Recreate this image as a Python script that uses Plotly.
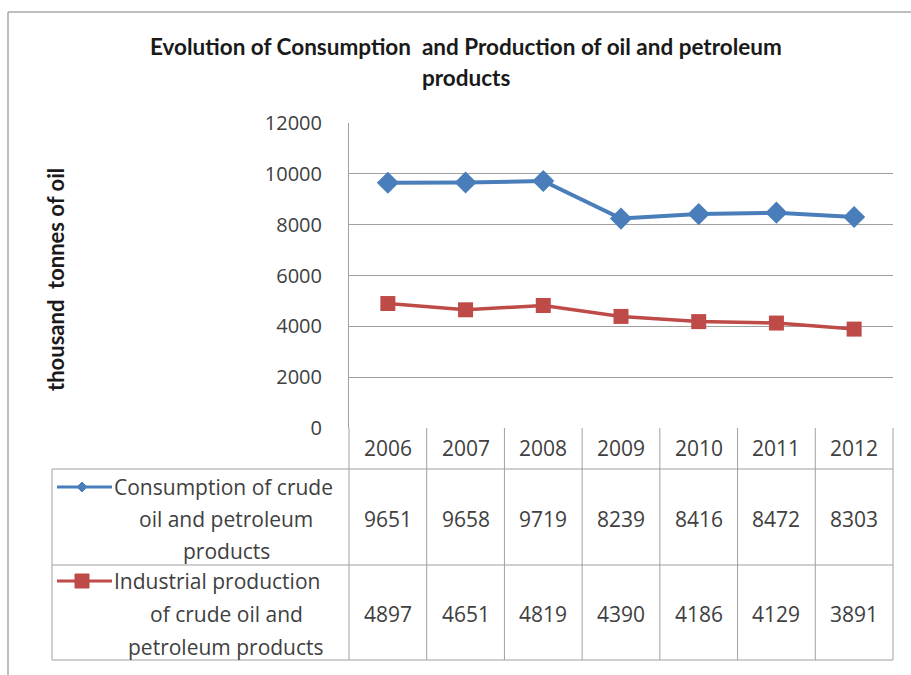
import plotly.graph_objects as go

years = ["2006", "2007", "2008", "2009", "2010", "2011", "2012"]
consumption = [9651, 9658, 9719, 8239, 8416, 8472, 8303]
production = [4897, 4651, 4819, 4390, 4186, 4129, 3891]
series_names = [["Consumption of crude", "oil and petroleum", "products"],
                ["Industrial production", "of crude oil and", "petroleum products"]]
title_lines = ["Evolution of Consumption  and Production of oil and petroleum", "products"]
y_title = "thousand  tonnes of oil"

W, H = 911, 675
BLUE = "#4A7EBB"
RED = "#BE4B48"
FONT = "Open Sans, Lato, sans-serif"
BFONT = "Lato, Open Sans, sans-serif"
TXT = "#404040"
GRID = "#a0a0a0"

# pixel layout
px_left, px_right = 349, 893
px_top, px_bottom = 123, 428
row_bounds = [428, 469, 565, 660]
table_left = 52

def X(p):
    return p / W

def Y(p):
    return 1 - p / H

fig = go.Figure()
fig.add_trace(go.Scatter(x=years, y=consumption, mode="lines+markers",
                         line=dict(color=BLUE, width=4),
                         marker=dict(symbol="diamond", size=17, color=BLUE),
                         showlegend=False))
fig.add_trace(go.Scatter(x=years, y=production, mode="lines+markers",
                         line=dict(color=RED, width=3.5),
                         marker=dict(symbol="square", size=15, color=RED),
                         showlegend=False))

shapes = []
annotations = []

def ann(xp, yp, text, size=21, color=TXT, family=FONT, **kw):
    d = dict(x=X(xp), y=Y(yp), xref="paper", yref="paper", text=text, showarrow=False,
             xanchor="center", yanchor="middle", font=dict(family=family, size=size, color=color))
    d.update(kw)
    annotations.append(d)

def line(x0, y0, x1, y1, color=GRID, width=1):
    shapes.append(dict(type="line", xref="paper", yref="paper", x0=X(x0), x1=X(x1),
                       y0=Y(y0), y1=Y(y1), line=dict(color=color, width=width)))

# outer chart border (left and top)
line(8, 12, 8, H, color="#a8a8a8", width=1.5)
line(8, 12, W, 12, color="#a8a8a8", width=1.5)

# table lines
n = len(years)
colw = (px_right - px_left) / n
for i in range(n + 1):
    xp = px_left + i * colw
    line(xp, row_bounds[0], xp, row_bounds[-1])
line(table_left, row_bounds[1], table_left, row_bounds[-1])
for rb in row_bounds[1:]:
    line(table_left, rb, px_right, rb)

# header years
for i, yr in enumerate(years):
    xc = px_left + (i + 0.5) * colw
    ann(xc, (row_bounds[0] + row_bounds[1]) / 2 - 1, yr)

# data values and row headers
line_y = [[487, 519, 551], [581, 614, 647]]
for r, vals in enumerate([consumption, production]):
    yc = line_y[r][1]
    for i, v in enumerate(vals):
        xc = px_left + (i + 0.5) * colw
        ann(xc, yc, str(v))
    for k, txt in enumerate(series_names[r]):
        if k == 0:
            ann(112, line_y[r][k], txt, xanchor="left")
        else:
            ann(226, line_y[r][k], txt)

# legend keys in row headers
colors = [BLUE, RED]
for r in range(2):
    line(57, line_y[r][0], 112, line_y[r][0], color=colors[r], width=3)
mx = 82
ky = line_y[0][0]
shapes.append(dict(type="path", xref="paper", yref="paper",
                   path=f"M {X(mx)} {Y(ky-5)} L {X(mx+5)} {Y(ky)} L {X(mx)} {Y(ky+5)} L {X(mx-5)} {Y(ky)} Z",
                   fillcolor=BLUE, line=dict(color=BLUE, width=1)))
ky = line_y[1][0]
shapes.append(dict(type="rect", xref="paper", yref="paper", x0=X(mx - 7), x1=X(mx + 7),
                   y0=Y(ky - 7), y1=Y(ky + 7), fillcolor=RED, line=dict(color=RED, width=1)))

# title
ann(466, 47, "<b>" + title_lines[0] + "</b>", size=22.5, color="#1a1a1a", family=BFONT)
ann(466, 77, "<b>" + title_lines[1] + "</b>", size=22.5, color="#1a1a1a", family=BFONT)
# y title
ann(56, 280, "<b>" + y_title + "</b>", size=22, color="#1a1a1a", family=BFONT, textangle=-90)

fig.update_layout(
    width=W, height=H, autosize=False,
    margin=dict(l=0, r=0, t=0, b=0, pad=0, autoexpand=False),
    paper_bgcolor="white", plot_bgcolor="white",
    shapes=shapes, annotations=annotations,
    xaxis=dict(domain=[X(px_left), X(px_right)], showticklabels=False, showgrid=False,
               zeroline=False, showline=False, range=[-0.5, n - 0.5], type="category",
               automargin=False),
    yaxis=dict(domain=[Y(px_bottom), Y(px_top)], range=[0, 12000], dtick=2000, tickformat="d",
               showgrid=True, gridcolor=GRID, gridwidth=1, zeroline=False,
               showline=True, linecolor=GRID, linewidth=1,
               ticks="", ticklabelstandoff=22, automargin=False,
               tickfont=dict(family=FONT, size=20, color=TXT)),
)

fig.write_html("out.html")
